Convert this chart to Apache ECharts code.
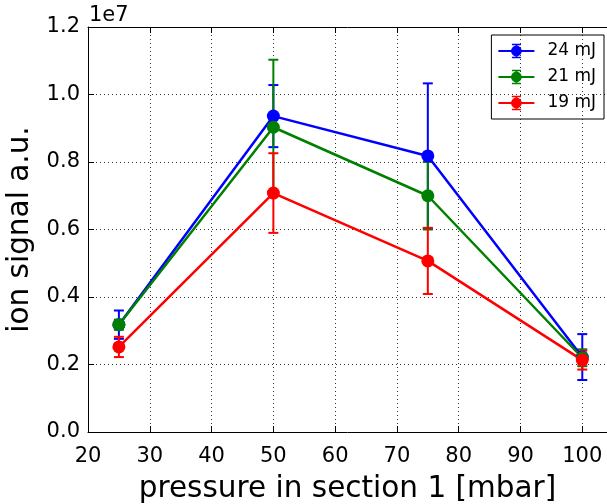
<!DOCTYPE html>
<html>
<head>
<meta charset="utf-8">
<script src="https://cdn.jsdelivr.net/npm/echarts@6/dist/echarts.min.js"></script>
<style>
  html, body { margin: 0; padding: 0; background: #fff; }
  #chart { width: 607px; height: 504px; }
</style>
</head>
<body>
<div id="chart"></div>
<script>
// datos del gráfico
var pressures = [25, 50, 75, 100];
var seriesNames = ['24 mJ', '21 mJ', '19 mJ'];
var signal24 = [3180000, 9360000, 8180000, 2220000];
var err24 = [420000, 920000, 2150000, 680000];
var signal21 = [3180000, 9030000, 7000000, 2200000];
var err21 = [150000, 2000000, 1000000, 250000];
var signal19 = [2520000, 7080000, 5070000, 2130000];
var err19 = [300000, 1180000, 980000, 280000];
var colors = ['#0000ff', '#008000', '#ff0000'];
var yTickLabels = ['0.0', '0.2', '0.4', '0.6', '0.8', '1.0', '1.2'];

var font = 'DejaVu Sans';

// icono de la leyenda: línea + barra de error + círculo
var legendIcon = 'path://M0,7 h40 v2 h-40 z M19,0 h2 v16 h-2 z M15,0 h10 v1.5 h-10 z M15,14.5 h10 v1.5 h-10 z M26,8 A6,6 0 1,1 14,8 A6,6 0 1,1 26,8 z';

function errorSeries(name, values, errs, color) {
  return {
    name: name,
    type: 'custom',
    data: pressures.map(function (p, i) { return [p, values[i], errs[i]]; }),
    itemStyle: { color: color },
    renderItem: function (params, api) {
      var x = api.value(0), y = api.value(1), e = api.value(2);
      var top = api.coord([x, y + e]);
      var bot = api.coord([x, y - e]);
      var hw = 5;
      var st = { stroke: color, lineWidth: 2 };
      return {
        type: 'group',
        children: [
          { type: 'line', shape: { x1: top[0], y1: top[1], x2: bot[0], y2: bot[1] }, style: st },
          { type: 'line', shape: { x1: top[0] - hw, y1: top[1], x2: top[0] + hw, y2: top[1] }, style: st },
          { type: 'line', shape: { x1: bot[0] - hw, y1: bot[1], x2: bot[0] + hw, y2: bot[1] }, style: st }
        ]
      };
    },
    silent: true
  };
}

function lineSeries(name, values, color) {
  return {
    name: name,
    type: 'line',
    data: pressures.map(function (p, i) { return [p, values[i]]; }),
    symbol: 'circle',
    symbolSize: 13,
    lineStyle: { color: color, width: 2.5 },
    itemStyle: { color: color }
  };
}

var chart = echarts.init(document.getElementById('chart'));

var option = {
  animation: false,
  backgroundColor: '#fff',
  title: {
    text: '1e7',
    left: 84,
    top: 0,
    textStyle: { fontFamily: font, fontSize: 21, fontWeight: 'normal', color: '#000' }
  },
  legend: {
    orient: 'vertical',
    right: 3,
    top: 35,
    padding: [7, 8, 7, 7],
    itemWidth: 36,
    itemHeight: 16,
    itemGap: 8,
    borderColor: '#000',
    borderWidth: 1,
    data: seriesNames.map(function (n) { return { name: n, icon: legendIcon }; }),
    textStyle: { fontFamily: font, fontSize: 17, color: '#000', lineHeight: 18, padding: [0, 0, 0, 8] }
  },
  grid: { left: 88, right: 0, top: 27, bottom: 72, containLabel: false, outerBoundsMode: 'none' },
  xAxis: [{
    type: 'value',
    min: 20,
    max: 104,
    interval: 10,
    name: 'pressure in section 1 [mbar]',
    nameLocation: 'middle',
    nameGap: 42,
    nameTextStyle: { fontFamily: font, fontSize: 29.5, color: '#000' },
    axisLine: { show: true, lineStyle: { color: '#000', width: 1 } },
    axisTick: { show: true, inside: true, length: 6, lineStyle: { color: '#000' } },
    axisLabel: { fontFamily: font, fontSize: 21, color: '#000', margin: 14, showMaxLabel: false },
    splitLine: { show: true, lineStyle: { color: '#333', type: [1, 3], width: 1 } }
  }, {
    type: 'value',
    position: 'top',
    min: 20,
    max: 104,
    interval: 10,
    axisLine: { show: true, lineStyle: { color: '#000', width: 1 } },
    axisTick: { show: true, inside: true, length: 6, lineStyle: { color: '#000' } },
    axisLabel: { show: false },
    splitLine: { show: false }
  }],
  yAxis: {
    type: 'value',
    min: 0,
    max: 12000000,
    interval: 2000000,
    name: 'ion signal a.u.',
    nameLocation: 'middle',
    nameGap: 53,
    nameTextStyle: { fontFamily: font, fontSize: 29.5, color: '#000' },
    axisLine: { show: true, lineStyle: { color: '#000', width: 1 } },
    axisTick: { show: true, inside: true, length: 6, lineStyle: { color: '#000' } },
    axisLabel: {
      fontFamily: font, fontSize: 21, color: '#000', margin: 8,
      formatter: function (v) { return yTickLabels[Math.round(v / 2000000)]; }
    },
    splitLine: { show: true, lineStyle: { color: '#333', type: [1, 3], width: 1 } }
  },
  series: [
    errorSeries(seriesNames[0], signal24, err24, colors[0]),
    lineSeries(seriesNames[0], signal24, colors[0]),
    errorSeries(seriesNames[1], signal21, err21, colors[1]),
    lineSeries(seriesNames[1], signal21, colors[1]),
    errorSeries(seriesNames[2], signal19, err19, colors[2]),
    lineSeries(seriesNames[2], signal19, colors[2])
  ]
};

chart.setOption(option);
</script>
</body>
</html>
